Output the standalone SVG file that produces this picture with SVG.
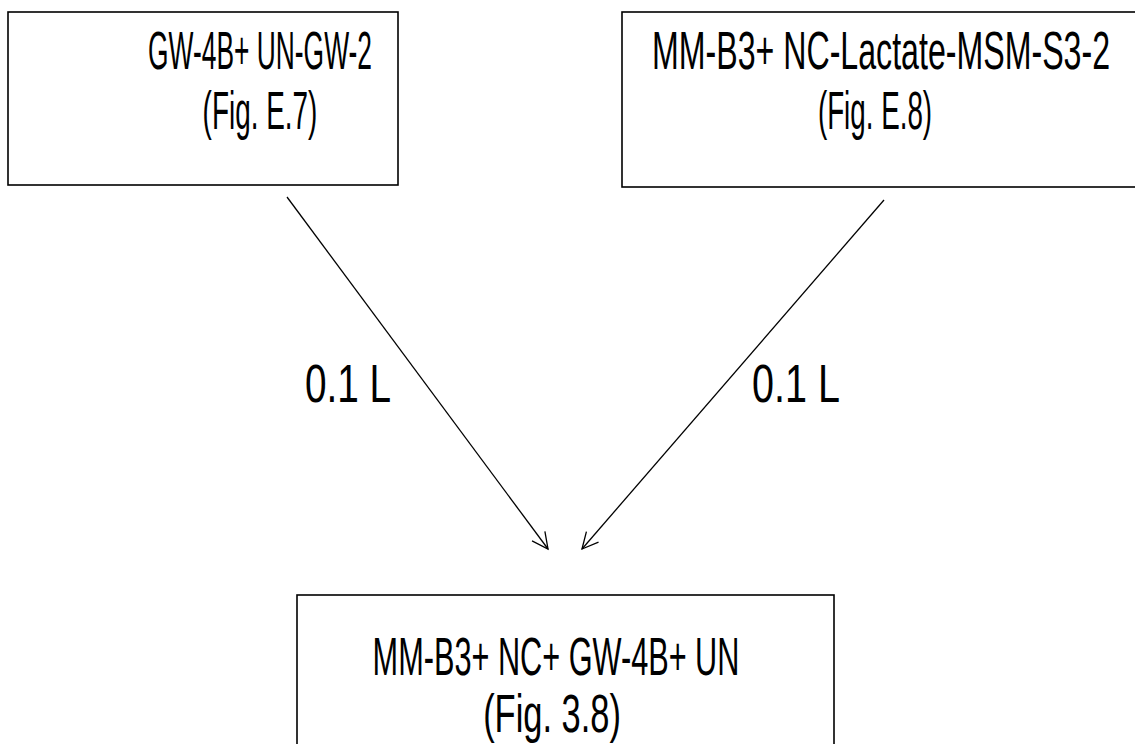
<svg xmlns="http://www.w3.org/2000/svg" width="1135" height="744" viewBox="0 0 1135 744">
  <style>
    .box { fill: #ffffff; stroke: #000000; stroke-width: 1.6; }
    .lbl { font-family: "Liberation Sans", Arial, sans-serif; font-size: 54px; fill: #000000; text-anchor: middle; }
    .edge { stroke: #000000; stroke-width: 1.3; fill: none; }
  </style>
  <defs>
    <marker id="arrow" viewBox="0 0 20 20" refX="18" refY="10" markerWidth="20" markerHeight="20" markerUnits="userSpaceOnUse" orient="auto">
      <path d="M2,2 L18,10 L2,18" fill="none" stroke="#000000" stroke-width="1.3"/>
    </marker>
  </defs>
  <rect width="1135" height="744" fill="#ffffff"/>

  <!-- labels are drawn condensed: scale(0.56,1) with textLength = width / 0.56 -->
  <g id="node-gw4b-un">
    <rect class="box" x="8" y="12" width="390" height="173"/>
    <text class="lbl" transform="translate(260,69) scale(0.56,1)" textLength="400" lengthAdjust="spacingAndGlyphs">GW-4B+ UN-GW-2</text>
    <text class="lbl" transform="translate(260,129) scale(0.56,1)" textLength="205" lengthAdjust="spacingAndGlyphs">(Fig. E.7)</text>
  </g>

  <g id="node-mmb3-nc">
    <rect class="box" x="622" y="12" width="520" height="175"/>
    <text class="lbl" transform="translate(881,69) scale(0.56,1)" textLength="818" lengthAdjust="spacingAndGlyphs">MM-B3+ NC-Lactate-MSM-S3-2</text>
    <text class="lbl" transform="translate(875,129) scale(0.56,1)" textLength="204" lengthAdjust="spacingAndGlyphs">(Fig. E.8)</text>
  </g>

  <g id="node-combined">
    <rect class="box" x="297" y="595" width="537" height="170"/>
    <text class="lbl" transform="translate(556,675) scale(0.56,1)" textLength="655" lengthAdjust="spacingAndGlyphs">MM-B3+ NC+ GW-4B+ UN</text>
    <text class="lbl" transform="translate(552,732) scale(0.56,1)" textLength="246" lengthAdjust="spacingAndGlyphs">(Fig. 3.8)</text>
  </g>

  <g id="connectors">
    <line class="edge" x1="287" y1="197" x2="548" y2="549" marker-end="url(#arrow)"/>
    <line class="edge" x1="884" y1="200" x2="582" y2="549" marker-end="url(#arrow)"/>
    <text class="lbl" transform="translate(348,402) scale(0.56,1)" textLength="154" lengthAdjust="spacingAndGlyphs">0.1 L</text>
    <text class="lbl" transform="translate(796,402) scale(0.56,1)" textLength="157" lengthAdjust="spacingAndGlyphs">0.1 L</text>
  </g>
</svg>
